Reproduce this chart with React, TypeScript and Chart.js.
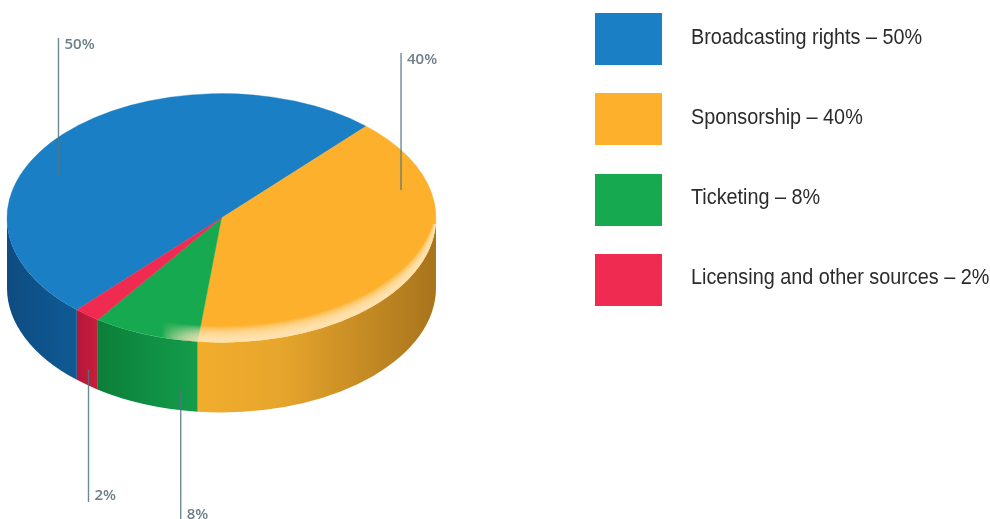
import React, { useEffect, useRef } from "react";
import { Chart, registerables } from "chart.js";

Chart.register(...registerables);

const categories = ["Broadcasting rights", "Sponsorship", "Ticketing", "Licensing and other sources"];
const shares = [50, 40, 8, 2];
const topColors = ["#1a7fc4", "#fdb02b", "#17a94f", "#ef2b52"];
const sideStops = [
  ["#0e4c82", "#0f5a94"],
  ["#f2ad2c", "#e6a52c", "#a8741c"],
  ["#0c7e39", "#0e8a40", "#149c4b"],
  ["#b5163a", "#c81f3e"],
];
// leader lines: x in radius units from the pie centre, then top and bottom y in pixels
const leaderX = [-0.76, 0.837, -0.19, -0.62];
const leaderTop = [38, 53, 390, 370];
const leaderBottom = [175, 190, 530, 502];
const labelY = [45, 60, 515, 496];

const SQUASH = 0.58;
const DEPTH = 70;
const TAU = Math.PI * 2;

const pie3d = {
  id: "pie3d",
  beforeDatasetsDraw(chart: any) {
    const ctx = chart.ctx;
    const arcs = chart.getDatasetMeta(0).data;
    ctx.save();
    arcs.forEach((arc: any, i: number) => {
      const { x, y, outerRadius: r, startAngle, endAngle } = arc;
      [-TAU, 0, TAU].forEach((shift) => {
        const a0 = Math.max(startAngle + shift, 0);
        const a1 = Math.min(endAngle + shift, Math.PI);
        if (a1 <= a0) return;
        const x0 = x + r * Math.cos(a1);
        const x1 = x + r * Math.cos(a0);
        const g = ctx.createLinearGradient(x0, 0, x1, 0);
        const stops = sideStops[i];
        stops.forEach((c: string, k: number) => {
          const pos = stops.length === 3 && k === 1 ? 0.35 : k / (stops.length - 1);
          g.addColorStop(pos, c);
        });
        ctx.fillStyle = g;
        ctx.beginPath();
        ctx.ellipse(x, y + DEPTH, r, r * SQUASH, 0, a0, a1);
        ctx.ellipse(x, y, r, r * SQUASH, 0, a1, a0, true);
        ctx.closePath();
        ctx.fill();
      });
    });
    ctx.restore();
    ctx.save();
    const { y } = arcs[0];
    ctx.translate(0, y);
    ctx.scale(1, SQUASH);
    ctx.translate(0, -y);
  },
  afterDatasetsDraw(chart: any) {
    const ctx = chart.ctx;
    ctx.restore();
    const arcs = chart.getDatasetMeta(0).data;
    const { x, y, outerRadius: r } = arcs[0];

    // soft rim of light on the lower right of the top face
    ctx.save();
    ctx.beginPath();
    ctx.ellipse(x, y, r, r * SQUASH, 0, 0, TAU);
    ctx.clip();
    ctx.beginPath();
    ctx.rect(x - r - 2, y + 6, 2 * r + 4, r);
    ctx.clip();
    const rim = ctx.createLinearGradient(x - 60, 0, x - 15, 0);
    rim.addColorStop(0, "rgba(255,232,190,0)");
    rim.addColorStop(1, "rgba(255,232,190,0.15)");
    ctx.fillStyle = rim;
    for (let k = 3; k <= 16; k += 1) {
      ctx.beginPath();
      ctx.rect(x - r - 2, y, 2 * r + 4, r);
      ctx.ellipse(x, y - k, r, r * SQUASH, 0, 0, TAU);
      ctx.fill("evenodd");
    }
    ctx.restore();

    // leader lines and their labels
    ctx.save();
    arcs.forEach((_: any, i: number) => {
      const lx = x + leaderX[i] * r;
      ctx.strokeStyle = "rgba(82,118,130,0.85)";
      ctx.lineWidth = 1.4;
      ctx.beginPath();
      ctx.moveTo(lx, leaderTop[i]);
      ctx.lineTo(lx, leaderBottom[i]);
      ctx.stroke();
      ctx.fillStyle = "#6c7f88";
      ctx.font = "600 15px 'Open Sans'";
      ctx.textBaseline = "middle";
      ctx.textAlign = "left";
      ctx.fillText(shares[i] + "%", lx + 6, labelY[i]);
    });
    ctx.restore();
  },
};

export default function App() {
  const ref = useRef<HTMLCanvasElement>(null);
  useEffect(() => {
    document.body.style.margin = "0";
    const chart = new Chart(ref.current!, {
      type: "pie",
      data: {
        labels: categories,
        datasets: [
          {
            data: shares,
            backgroundColor: topColors,
            borderColor: topColors,
            borderWidth: 0.5,
          },
        ],
      },
      options: {
        responsive: false,
        animation: false,
        rotation: 222.4,
        radius: 214.5,
        layout: { padding: { left: 0, top: 0, right: 547, bottom: 83 } },
        plugins: { legend: { display: false }, tooltip: { enabled: false } },
      },
      plugins: [pie3d],
    });
    return () => chart.destroy();
  }, []);
  return (
    <div style={{ position: "relative", width: 990, height: 519, overflow: "hidden", background: "#fff" }}>
      <canvas ref={ref} width={990} height={519} style={{ position: "absolute", left: 0, top: 0 }} />
      {categories.map((c, i) => (
        <div key={c}>
          <div
            style={{
              position: "absolute",
              left: 595,
              top: 13 + i * 80.3,
              width: 67,
              height: 52,
              background: topColors[i],
            }}
          />
          <div
            style={{
              position: "absolute",
              left: 691,
              top: 13 + i * 80,
              height: 48,
              lineHeight: "48px",
              whiteSpace: "nowrap",
              fontFamily: "'Liberation Sans'",
              fontSize: 22,
              color: "#2b2b2b",
              transform: "scaleX(0.9)",
              transformOrigin: "left center",
            }}
          >
            {c} – {shares[i]}%
          </div>
        </div>
      ))}
    </div>
  );
}
